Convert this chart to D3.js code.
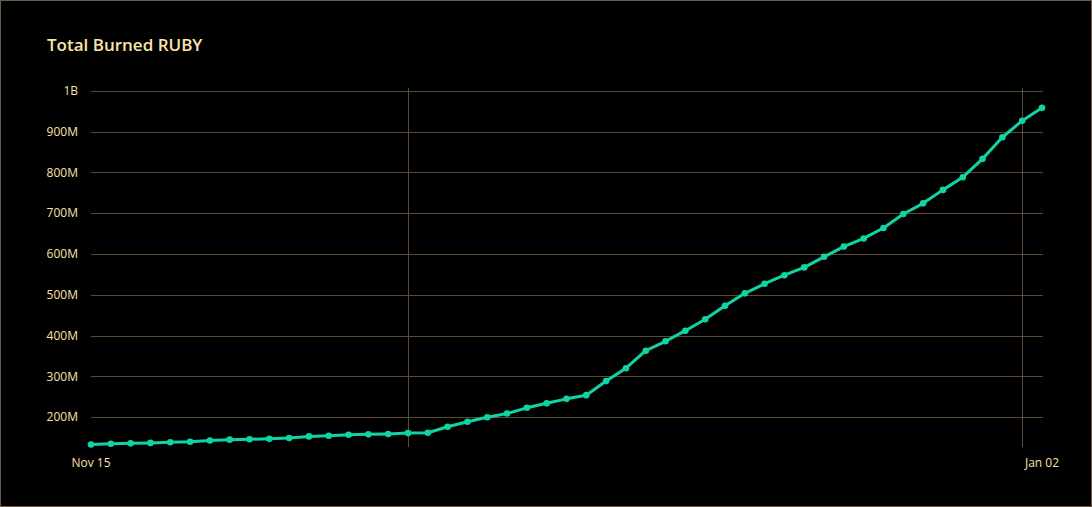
<!DOCTYPE html>
<html lang="en">
<head>
  <meta charset="UTF-8">
  <title>Total Burned RUBY</title>
  <script src="https://d3js.org/d3.v7.min.js"></script>
  <style>
    html, body { margin: 0; padding: 0; background: #000; }
    svg { display: block; font-family: "Open Sans", sans-serif; }
    .grid line { stroke: #5e4a33; stroke-width: 1; }
    .tick-label { fill: #f8e4a8; font-size: 12px; }
  </style>
</head>
<body>
  <svg id="chart" width="1092" height="507"></svg>

  <script>
    // Data: daily total burned (millions), Nov 15 -> Jan 02
    const startDate = "2021-11-15";
    const burned = [
      133, 135, 136, 137, 138.5, 140, 143, 145, 146, 147,
      149, 153, 154.5, 157, 158, 159, 161, 162, 176.5, 189,
      200, 209, 223, 234, 245, 254, 288.5, 320, 363, 386,
      412, 440, 473, 503.5, 527, 548, 567, 593, 618, 638,
      663.5, 698, 724, 757, 788, 833, 886, 926.5, 958
    ];
    const yTicks = [200e6, 300e6, 400e6, 500e6, 600e6, 700e6, 800e6, 900e6, 1e9];
    const xTickLabels = ["Nov 15", "Jan 02"];

    const parse = d3.timeParse("%Y-%m-%d");
    const t0 = parse(startDate);
    const data = burned.map((v, i) => ({ date: d3.timeDay.offset(t0, i), value: v * 1e6 }));

    const width = 1092;
    const height = 507;
    const plotLeft = 91, plotRight = 1042, gridRight = 1043;
    const plotTop = 88, plotBottom = 447;

    const svg = d3.select("#chart");

    // Border
    svg.append("rect")
      .attr("x", 0.5).attr("y", 0.5)
      .attr("width", width - 1).attr("height", height - 1)
      .attr("fill", "#000")
      .attr("stroke", "#6b5b4b");

    // Title
    svg.append("text")
      .attr("x", 47).attr("y", 51)
      .attr("fill", "#fae5a8")
      .style("font-size", "17px")
      .style("font-weight", 600)
      .text("Total Burned RUBY");

    const x = d3.scaleTime()
      .domain(d3.extent(data, d => d.date))
      .range([plotLeft, plotRight]);

    const y = d3.scaleLinear()
      .domain([127e6, 1e9])
      .range([plotBottom, 90.7]);

    const fmt = v => d3.format("~s")(v).replace("G", "B");

    // Horizontal gridlines + labels
    const hg = svg.append("g").attr("class", "grid");
    hg.selectAll("line")
      .data(yTicks)
      .enter()
      .append("line")
      .attr("x1", plotLeft).attr("x2", gridRight)
      .attr("y1", d => Math.round(y(d)) + 0.5)
      .attr("y2", d => Math.round(y(d)) + 0.5);

    svg.selectAll(".y-label")
      .data(yTicks)
      .enter()
      .append("text")
      .attr("class", "tick-label y-label")
      .attr("x", 78)
      .attr("y", d => y(d))
      .attr("dy", "0.35em")
      .attr("text-anchor", "end")
      .text(fmt);

    // Vertical gridlines at month starts
    const months = d3.timeMonth.range(d3.timeMonth.ceil(x.domain()[0]), x.domain()[1]);
    const vg = svg.append("g").attr("class", "grid");
    vg.selectAll("line")
      .data(months)
      .enter()
      .append("line")
      .attr("x1", d => Math.round(x(d)) + 0.5)
      .attr("x2", d => Math.round(x(d)) + 0.5)
      .attr("y1", plotTop).attr("y2", plotBottom);

    // X labels: first and last date
    const ends = x.domain();
    svg.selectAll(".x-label")
      .data(ends)
      .enter()
      .append("text")
      .attr("class", "tick-label x-label")
      .attr("x", d => x(d))
      .attr("y", 467)
      .attr("text-anchor", "middle")
      .text((d, i) => xTickLabels[i]);

    // Line
    const line = d3.line()
      .x(d => x(d.date))
      .y(d => y(d.value));

    svg.append("path")
      .datum(data)
      .attr("fill", "none")
      .attr("stroke", "#10d4a4")
      .attr("stroke-width", 3)
      .attr("stroke-linejoin", "round")
      .attr("d", line);

    svg.selectAll(".dot")
      .data(data)
      .enter()
      .append("circle")
      .attr("class", "dot")
      .attr("cx", d => x(d.date))
      .attr("cy", d => y(d.value))
      .attr("r", 3.3)
      .attr("fill", "#10d4a4");
  </script>
</body>
</html>
